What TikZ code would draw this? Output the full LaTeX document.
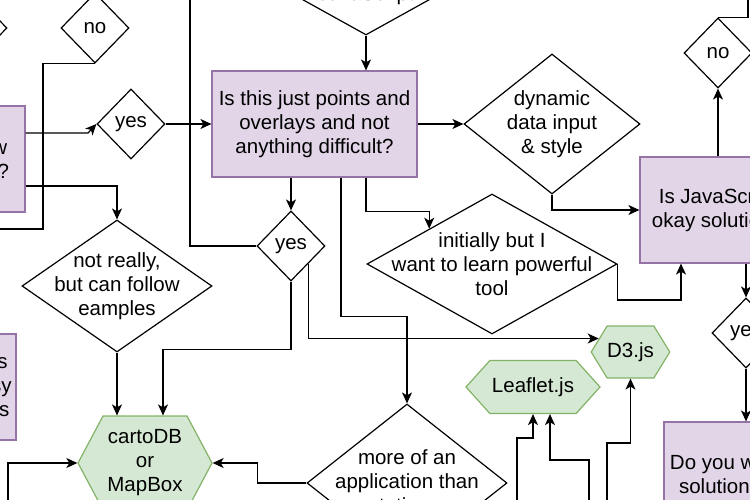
\documentclass[tikz,border=0pt]{standalone}
\usepackage{fontspec}
\setmainfont{Liberation Sans}
\usetikzlibrary{shapes.geometric,shapes.symbols,arrows.meta}
\definecolor{qfill}{HTML}{E1D5E7}
\definecolor{qline}{HTML}{9673A6}
\definecolor{hfill}{HTML}{D5E8D4}
\definecolor{hline}{HTML}{82B366}

\begin{document}
\begin{tikzpicture}[x=1pt, y=-1pt, line width=1.2pt,
    every node/.style={font=\fontsize{20.5}{24}\selectfont, align=center, inner sep=0pt},
    dia/.style={diamond, draw, minimum width=68pt, minimum height=70pt},
    qbox/.style={rectangle, draw=qline, fill=qfill, minimum height=106pt},
    hexa/.style={signal, signal to=east and west, draw=hline, fill=hfill},
    arr/.style={-{Stealth[length=11pt,width=10pt,inset=3pt]}}]
    \useasboundingbox (0,0) rectangle (750,500);
    \clip (0,0) rectangle (750,500);

    \node[dia] (d0) at (-27,28) {};
    \node[dia] (no1) at (95,28) {no};
    \node[qbox, minimum width=154pt] (lbox) at (-52,159) {Do you know\\how to code?};
    \node[dia] (yes1) at (131,124) {yes};
    \node[qbox, minimum width=205pt] (main) at (314.5,124) {Is this just points and\\overlays and not\\anything difficult?};
    \node[dia, minimum width=234pt, minimum height=130pt, label={[yshift=-25pt]center:JavaScript}] (jsdia) at (366,-30) {};
    \node[dia, minimum width=176pt, minimum height=140pt, label={center:{dynamic\\data input\\\& style}}] (dyn) at (552,124) {};
    \node[qbox, minimum width=155pt] (jsok) at (717.5,210) {Is JavaScript\\okay solution?};
    \node[dia] (no2) at (718,53) {no};
    \node[dia] (yes2) at (291,246) {yes};
    \node[dia, minimum width=250pt, minimum height=140pt, label={center:{initially but I\\want to learn powerful\\tool}}] (init) at (492,264) {};
    \node[dia, minimum width=190pt, minimum height=132pt, label={center:{not really,\\but can follow\\eamples}}] (notreal) at (117,286) {};
    \node[qbox, minimum width=142pt] (lbox2) at (-55,387) {Is it just maps\\and quite easy\\to make maps};
    \node[hexa, minimum width=134pt, minimum height=94pt, signal pointer angle=124] (carto) at (145,463) {cartoDB\\or\\MapBox};
    \node[hexa, minimum width=134pt, minimum height=53pt, signal pointer angle=96] (leaf) at (533,387) {Leaflet.js};
    \node[hexa, minimum width=77pt, minimum height=52pt, signal pointer angle=117] (d3) at (630.5,352) {D3.js};
    \node[dia, minimum width=200pt, minimum height=158pt, label={center:{more of an\\application than\\a static map}}] (more) at (407,483) {};
    \node[dia] (yes3) at (746,333) {yes};
    \node[qbox, minimum width=143pt, minimum height=134pt] (doyou) at (735.5,489) {Do you want a\\solution with\\analysis tools?};

    \coordinate (e1) at (-30,229);
    \coordinate (e2) at (190,-30);
    \coordinate (e3) at (748,-30);
    \coordinate (s1) at (8,530);
    \coordinate (s2) at (517,530);
    \coordinate (s3) at (589,530);
    \coordinate (s4) at (607,530);

    \draw[arr] (no1.south) -- ++(-52,0) |- (e1);
    \draw[arr] (lbox.east |- 0,133) -- (88,133) -- (yes1.west);
    \draw[arr] (yes1.east) -- (main.west);
    \draw[arr] (lbox.east |- 0,186) -| (notreal.north);
    \draw[arr] (yes2.west) -| (e2);
    \draw[arr] (jsdia.south) -- (jsdia.south |- main.north);
    \draw[arr] (main.east) -- (dyn.west);
    \draw[arr] (dyn.south) |- (jsok.west);
    \draw[arr] (no2.south |- jsok.north) -- (no2.south);
    \draw[arr] (no2.north) -| (e3);
    \draw[arr] (yes2.north |- main.south) -- (yes2.north);
    \draw[arr] (main.south -| 341,0) -- ++(0,139) -| (more.north);
    \draw[arr] (main.south -| 366,0) -- ++(0,34) -| (init.north west);
    \draw[arr] (init.east) -- ++(0,36) -| (jsok.south -| 681,0);
    \draw[arr] (yes2.south) -- ++(0,68) -| (carto.north -| 163,0);
    \draw[arr] (yes2.south east) |- (d3.157);
    \draw[arr] (notreal.south) -- (notreal.south |- carto.north);
    \draw[arr] (s1) |- (carto.west);
    \draw[arr] (more.west) -- ++(-49,0) |- (carto.east);
    \draw[arr] (s2) |- (leaf.south |- 0,438) -- (leaf.south);
    \draw[arr] (s3) |- (550,460) -- (leaf.south -| 550,0);
    \draw[arr] (s4) |- (d3.south |- 0,443) -- (d3.south);
    \draw[arr] (yes3.north |- jsok.south) -- (yes3.north);
    \draw[arr] (yes3.south) -- (yes3.south |- doyou.north);
\end{tikzpicture}
\end{document}
